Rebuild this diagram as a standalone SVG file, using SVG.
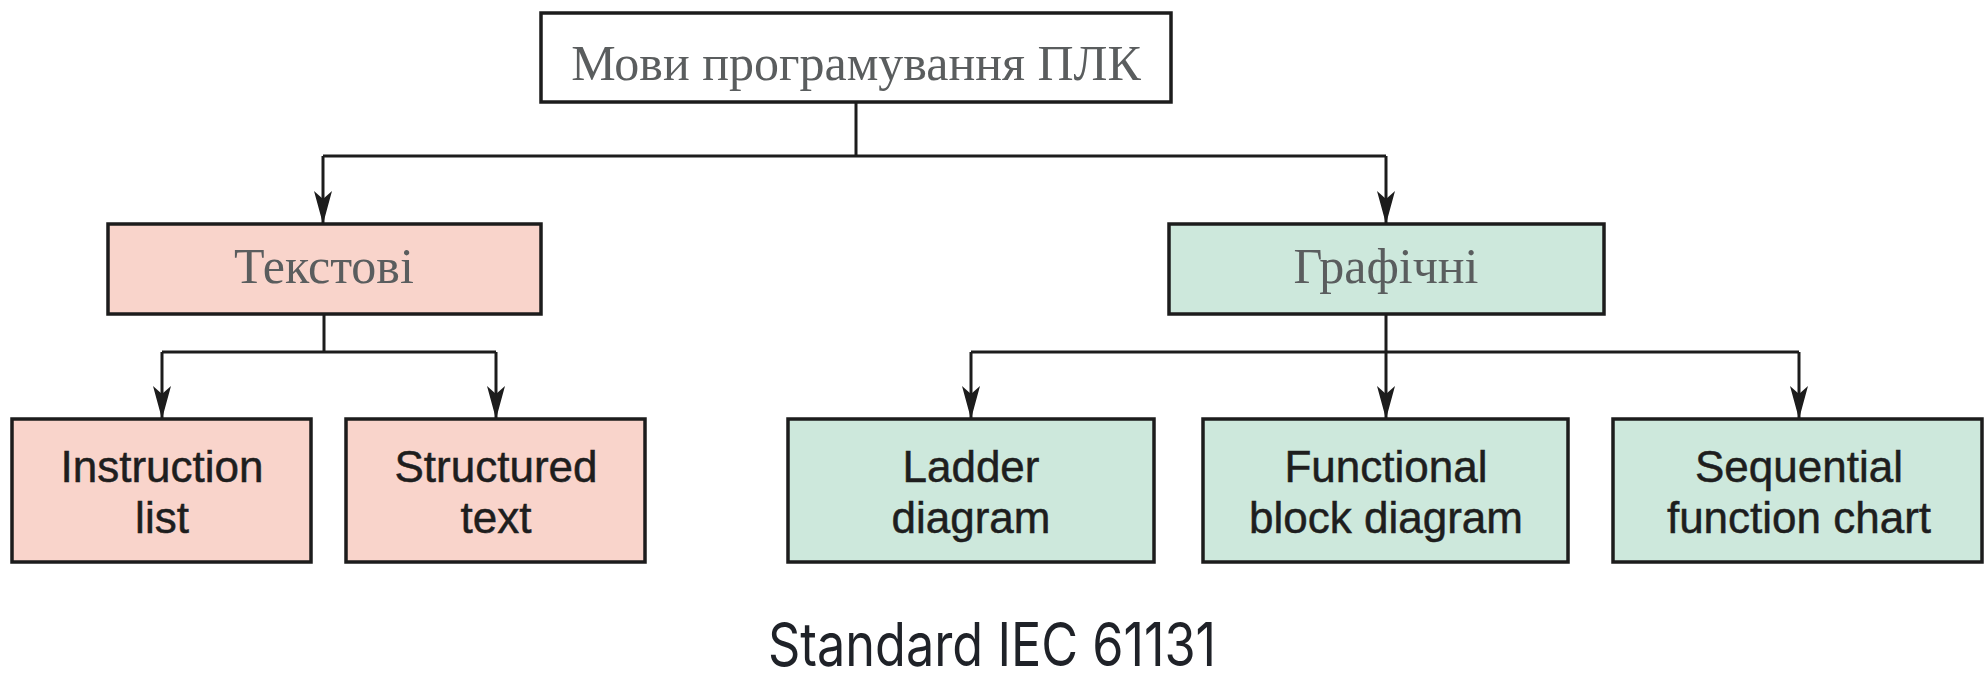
<svg xmlns="http://www.w3.org/2000/svg" width="1988" height="684" viewBox="0 0 1988 684">
<defs>
<style>
.box{stroke:#1c1c1c;stroke-width:3.5}
.root{fill:#ffffff}
.pink{fill:#f9d4cb}
.green{fill:#cde8dc}
.serif{font-family:"Liberation Serif","DejaVu Serif",serif;fill:#5a5d5e;text-anchor:middle}
.sans{font-family:"Liberation Sans",Arial,sans-serif;font-size:44px;fill:#1e1e1e;stroke:#1e1e1e;stroke-width:0.5;text-anchor:middle}
.conn{fill:none;stroke:#1c1c1c;stroke-width:3}
</style>
<marker id="arr" markerUnits="userSpaceOnUse" markerWidth="40" markerHeight="24" viewBox="-36 -12 40 24" refX="0" refY="0" orient="auto">
<path d="M0,0 L-33,-9 L-25,0 L-33,9 Z" fill="#1c1c1c"/>
</marker>
</defs>
<rect width="1988" height="684" fill="#ffffff"/>
<g id="connectors">
<path class="conn" d="M856,102 V156 M323,156 H1386"/>
<path class="conn" d="M323,156 V224" marker-end="url(#arr)"/>
<path class="conn" d="M1386,156 V224" marker-end="url(#arr)"/>
<path class="conn" d="M324,314 V352 M162,352 H496"/>
<path class="conn" d="M162,352 V419" marker-end="url(#arr)"/>
<path class="conn" d="M496,352 V419" marker-end="url(#arr)"/>
<path class="conn" d="M1386,314 V352 M971,352 H1799"/>
<path class="conn" d="M971,352 V419" marker-end="url(#arr)"/>
<path class="conn" d="M1386,352 V419" marker-end="url(#arr)"/>
<path class="conn" d="M1799,352 V419" marker-end="url(#arr)"/>
</g>
<g id="root">
<rect class="box root" x="541" y="13" width="630" height="89"/>
<text class="serif" x="856" y="80" font-size="50">Мови програмування ПЛК</text>
</g>
<g id="textual">
<rect class="box pink" x="108" y="224" width="433" height="90"/>
<text class="serif" x="324" y="283" font-size="50">Текстові</text>
</g>
<g id="graphical">
<rect class="box green" x="1169" y="224" width="435" height="90"/>
<text class="serif" x="1386" y="283" font-size="50">Графічні</text>
</g>
<g id="il">
<rect class="box pink" x="12" y="419" width="299" height="143"/>
<text class="sans" x="162" y="482">Instruction</text>
<text class="sans" x="162" y="533">list</text>
</g>
<g id="st">
<rect class="box pink" x="346" y="419" width="299" height="143"/>
<text class="sans" x="496" y="482">Structured</text>
<text class="sans" x="496" y="533">text</text>
</g>
<g id="ld">
<rect class="box green" x="788" y="419" width="366" height="143"/>
<text class="sans" x="971" y="482">Ladder</text>
<text class="sans" x="971" y="533">diagram</text>
</g>
<g id="fbd">
<rect class="box green" x="1203" y="419" width="365" height="143"/>
<text class="sans" x="1386" y="482">Functional</text>
<text class="sans" x="1386" y="533">block diagram</text>
</g>
<g id="sfc">
<rect class="box green" x="1613" y="419" width="369" height="143"/>
<text class="sans" x="1799" y="482">Sequential</text>
<text class="sans" x="1799" y="533">function chart</text>
</g>
<g id="caption">
<text x="992" y="666" font-family="Inter,'DejaVu Sans',sans-serif" font-weight="400" font-size="60" fill="#1f2228" text-anchor="middle" textLength="448" lengthAdjust="spacingAndGlyphs">Standard IEC 61131</text>
</g>
</svg>
